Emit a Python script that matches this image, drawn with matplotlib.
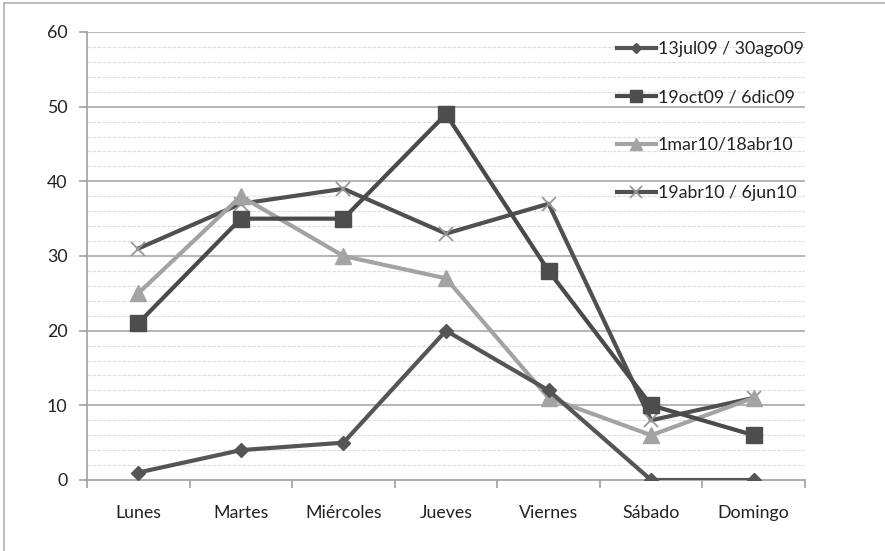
import matplotlib
matplotlib.use("Agg")
import matplotlib.pyplot as plt
from matplotlib.lines import Line2D
import numpy as np

categories = ["Lunes", "Martes", "Miércoles", "Jueves", "Viernes", "Sábado", "Domingo"]
s1 = [1, 4, 5, 20, 12, 0, 0]
s2 = [21, 35, 35, 49, 28, 10, 6]
s3 = [25, 38, 30, 27, 11, 6, 11]
s4 = [31, 37, 39, 33, 37, 8, 11]
labels = ["13jul09 / 30ago09", "19oct09 / 6dic09", "1mar10/18abr10", "19abr10 / 6jun10"]

plt.rcParams['font.family'] = ['Lato', 'DejaVu Sans']

fig = plt.figure(figsize=(8.85, 5.51), dpi=100)
ax = fig.add_axes([87/885, 1-480/551, (805-87)/885, (480-32)/551])

x = np.arange(len(categories))
lw = 3.0
h1, = ax.plot(x, s1, color="#555555", lw=lw, marker="D", ms=7, mfc="#555555", mec="#555555", zorder=5)
h2, = ax.plot(x, s2, color="#4a4a4a", lw=lw, marker="s", ms=11, mfc="#4d4d4d", mec="#4d4d4d", zorder=4)
h3, = ax.plot(x, s3, color="#a3a3a3", lw=lw, marker="^", ms=11, mfc="#a3a3a3", mec="#a3a3a3", zorder=3)
h4, = ax.plot(x, s4, color="#505050", lw=lw, marker="x", ms=10, mew=1.3, mfc="#999999", mec="#999999", zorder=2)

ax.set_xlim(-0.5, len(categories) - 0.5)
ax.set_ylim(0, 60)
ax.set_yticks(range(0, 61, 10))
ax.set_yticks(range(0, 61, 2), minor=True)
ax.set_xticks(x)
ax.set_xticklabels(categories)
ax.set_xticks(np.arange(-0.5, len(categories), 1.0), minor=True)

for v in range(2, 61, 2):
    if v % 10 == 0:
        ax.axhline(v, color="#a8a8a8", lw=1.2, zorder=0)
    else:
        ax.axhline(v, color="#e0e0e0", lw=0.9, ls=(0, (3, 1)), zorder=0)

for s in ["top", "right"]:
    ax.spines[s].set_visible(False)
ax.spines["left"].set_color("#a0a0a0")
ax.spines["bottom"].set_color("#a0a0a0")
ax.spines["left"].set_linewidth(1.2)
ax.spines["bottom"].set_linewidth(1.2)

fs = 12.8
ax.tick_params(axis="x", which="major", length=0, pad=18, labelsize=fs, labelcolor="#222222")
ax.tick_params(axis="x", which="minor", length=6, direction="out", color="#a0a0a0", width=1.2)
ax.tick_params(axis="y", which="major", length=6, direction="out", color="#a0a0a0", width=1.2, labelsize=fs, labelcolor="#222222", pad=8)
ax.tick_params(axis="y", which="minor", length=0)

leg = ax.legend([h1, h2, h3, h4], labels, loc="upper left", bbox_to_anchor=(0.728, 0.995),
                frameon=False, fontsize=fs, handlelength=2.2, handletextpad=0.1,
                labelspacing=1.79, borderaxespad=0, markerscale=0.8)
for t in leg.get_texts():
    t.set_color("#222222")

# outer chart border
fig.add_artist(Line2D([4/885, 4/885], [0, 1-3/551], transform=fig.transFigure, color="#b0b0b0", lw=1.2))
fig.add_artist(Line2D([4/885, 1], [1-3/551, 1-3/551], transform=fig.transFigure, color="#b0b0b0", lw=1.2))

fig.savefig("out.png", dpi=100)
